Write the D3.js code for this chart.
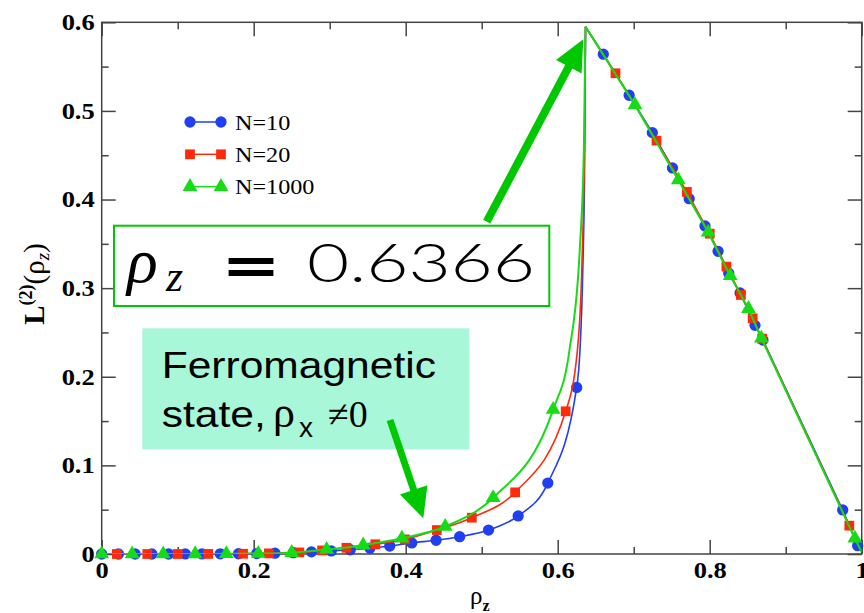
<!DOCTYPE html>
<html>
<head>
<meta charset="utf-8">
<script src="https://cdn.jsdelivr.net/npm/d3@7"></script>
<style>
  body { margin: 0; background: #fff; }
  svg { display: block; }
</style>
</head>
<body>
<svg id="chart" width="864" height="613"></svg>
<script>
// ---- data ----
const seriesNames = ["N=10", "N=20", "N=1000"];
const peak = [0.6366, 0.595];

// marker points, left branch (rho_z below the peak)
const n10Left = [[0, 0], [0.022, 0], [0.044, 0], [0.066, 0], [0.088, 0], [0.11, 0.0001], [0.132, 0.0001],
  [0.156, 0.0002], [0.18, 0.0003], [0.204, 0.0005], [0.228, 0.0009], [0.252, 0.0015], [0.276, 0.0024],
  [0.302, 0.0035], [0.327, 0.0048], [0.353, 0.0065], [0.379, 0.009], [0.408, 0.0125], [0.44, 0.0155],
  [0.471, 0.0195], [0.509, 0.027], [0.548, 0.043], [0.587, 0.08], [0.625, 0.188]];
const n20Left = [[0.02, 0], [0.06, 0], [0.10, 0], [0.14, 0.0001], [0.186, 0.0003], [0.22, 0.0007],
  [0.26, 0.0018], [0.29, 0.004], [0.322, 0.007], [0.36, 0.011], [0.399, 0.0165], [0.441, 0.027],
  [0.487, 0.041], [0.544, 0.0696], [0.6105, 0.161]];
const n1000Left = [[0, 0], [0.04, 0], [0.081, 0], [0.123, 0.0001], [0.164, 0.0002], [0.206, 0.0005],
  [0.25, 0.0015], [0.296, 0.005], [0.344, 0.01], [0.395, 0.0177], [0.452, 0.031], [0.515, 0.0635],
  [0.594, 0.163]];

// line-only points where the curves shoot up to the peak
const n10Rise = [[0.6293, 0.23], [0.633, 0.32], [0.6355, 0.45]];
const n20Rise = [[0.6258, 0.229], [0.632, 0.33], [0.6352, 0.46]];
const n1000Rise = [[0.6153, 0.229], [0.629, 0.343], [0.6345, 0.46]];

// marker points, right branch
const n10Right = [[0.66, 0.564], [0.694, 0.5177], [0.7245, 0.4755], [0.751, 0.4357], [0.773, 0.401],
  [0.7938, 0.3702], [0.811, 0.3416], [0.825, 0.3168], [0.84, 0.2946], [0.8596, 0.258], [0.87, 0.2415],
  [0.975, 0.0497], [0.9947, 0.0094]];
const n20Right = [[0.676, 0.5425], [0.73, 0.4665], [0.77, 0.4086], [0.8, 0.3615], [0.822, 0.3243],
  [0.841, 0.2923], [0.8565, 0.266], [0.869, 0.243], [0.9837, 0.032]];
const n1000Right = [[0.7017, 0.5068], [0.7587, 0.422], [0.798, 0.363], [0.827, 0.314], [0.851, 0.2769],
  [0.868, 0.2435], [0.991, 0.0177]];
const n1000Tail = [[1.0, 0.002]];

const xMajor = [0, 0.2, 0.4, 0.6, 0.8, 1];
const xLabels = ["0", "0.2", "0.4", "0.6", "0.8", "1"];
const xMinor = [0.1, 0.3, 0.5, 0.7, 0.9];
const yMajor = [0, 0.1, 0.2, 0.3, 0.4, 0.5, 0.6];
const yLabels = ["0", "0.1", "0.2", "0.3", "0.4", "0.5", "0.6"];
const yMinor = [0.05, 0.15, 0.25, 0.35, 0.45, 0.55];

// ---- setup ----
const svg = d3.select("#chart");
const x = d3.scaleLinear().domain([0, 1]).range([101.7, 861.7]);
const y = d3.scaleLinear().domain([0, 0.6]).range([554, 22.3]);
const colors = ["#1f3ff0", "#ff2a0a", "#16dc16"];
const green = "#00c800";

// the picture is a bit wider than tall, so text is stretched sideways
function stretch(sel, k) {
  sel.each(function () {
    const w = this.getComputedTextLength();
    d3.select(this).attr("textLength", w * k).attr("lengthAdjust", "spacingAndGlyphs");
  });
}

svg.append("rect").attr("width", 864).attr("height", 613).attr("fill", "#fff");

svg.append("clipPath").attr("id", "plot")
  .append("rect")
  .attr("x", x(0)).attr("y", y(0.6))
  .attr("width", x(1) - x(0)).attr("height", y(0) - y(0.6));

// ---- axes ----
function addAxis(axis, tr, vals, size, labels) {
  const g = svg.append("g").attr("transform", tr)
    .call(axis.tickValues(vals).tickSize(size).tickSizeOuter(0)
      .tickFormat(labels ? (d, i) => labels[i] : ""));
  g.select(".domain").remove();
  g.selectAll("line").attr("stroke", "#444").attr("stroke-width", 1.5);
  return g;
}
const bx = addAxis(d3.axisBottom(x).tickPadding(8), `translate(0,${y(0)})`, xMajor, -14, xLabels);
addAxis(d3.axisBottom(x), `translate(0,${y(0)})`, xMinor, -7);
addAxis(d3.axisTop(x), `translate(0,${y(0.6)})`, xMajor, -14);
addAxis(d3.axisTop(x), `translate(0,${y(0.6)})`, xMinor, -7);
const ly = addAxis(d3.axisLeft(y).tickPadding(7), `translate(${x(0)},0)`, yMajor, -14, yLabels);
addAxis(d3.axisLeft(y), `translate(${x(0)},0)`, yMinor, -7);
addAxis(d3.axisRight(y), `translate(${x(1)},0)`, yMajor, -14);
addAxis(d3.axisRight(y), `translate(${x(1)},0)`, yMinor, -7);

[bx, ly].forEach(g => {
  g.selectAll("text")
    .attr("font-family", "Liberation Serif, Times New Roman, serif")
    .attr("font-weight", "bold").attr("font-size", 23).attr("fill", "#000");
  stretch(g.selectAll("text"), 1.15);
});

svg.append("rect")
  .attr("x", x(0)).attr("y", y(0.6))
  .attr("width", x(1) - x(0)).attr("height", y(0) - y(0.6))
  .attr("fill", "none").attr("stroke", "#444").attr("stroke-width", 1.5);

// ---- series ----
const leftLine = d3.line().x(d => x(d[0])).y(d => y(d[1])).curve(d3.curveMonotoneX);
const rightLine = d3.line().x(d => x(d[0])).y(d => y(d[1]));
const shapes = [d3.symbolCircle, d3.symbolSquare, d3.symbolTriangle];
const sizes = [100, 95, 95];

const series = [
  { left: n10Left, rise: n10Rise, right: n10Right, tail: [] },
  { left: n20Left, rise: n20Rise, right: n20Right, tail: [] },
  { left: n1000Left, rise: n1000Rise, right: n1000Right, tail: n1000Tail }
];

series.forEach((s, i) => {
  const g = svg.append("g");
  const lines = g.append("g").attr("clip-path", "url(#plot)")
    .attr("fill", "none").attr("stroke", colors[i]).attr("stroke-width", i === 2 ? 2 : 1.6);
  lines.append("path").attr("d", leftLine(s.left.concat(s.rise, [peak])));
  lines.append("path").attr("d", rightLine([peak].concat(s.right, s.tail)));
  g.selectAll("path.mark").data(s.left.concat(s.right)).join("path")
    .attr("class", "mark")
    .attr("transform", d => `translate(${x(d[0])},${y(d[1])})`)
    .attr("d", d3.symbol().type(shapes[i]).size(sizes[i]))
    .attr("fill", colors[i]);
});

// ---- legend ----
const legend = svg.append("g");
seriesNames.forEach((name, i) => {
  const ry = 122 + i * 32.3;
  legend.append("line").attr("x1", 190).attr("x2", 221).attr("y1", ry).attr("y2", ry)
    .attr("stroke", colors[i]).attr("stroke-width", 1.5);
  [190, 221].forEach(px => legend.append("path")
    .attr("transform", `translate(${px},${ry})`)
    .attr("d", d3.symbol().type(shapes[i]).size(sizes[i]))
    .attr("fill", colors[i]));
  legend.append("text").attr("x", 235).attr("y", ry + 7.5)
    .attr("font-family", "Liberation Serif, Times New Roman, serif")
    .attr("font-size", 21).text(name);
});
stretch(legend.selectAll("text"), 1.15);

// ---- axis titles ----
const yt = svg.append("text")
  .attr("transform", "translate(44,284) rotate(-90)")
  .attr("text-anchor", "middle")
  .attr("font-family", "Liberation Serif, Times New Roman, serif");
yt.append("tspan").attr("font-size", 29).attr("font-weight", "bold").text("L");
yt.append("tspan").attr("font-size", 18).attr("font-weight", "bold").attr("dy", -12).text("(2)");
yt.append("tspan").attr("font-size", 29).attr("dy", 12).text("(ρ");
yt.append("tspan").attr("font-size", 19).attr("dy", 5).attr("font-style", "italic").text("z");
yt.append("tspan").attr("font-size", 29).attr("dy", -5).text(")");

const xt = svg.append("text").attr("x", 470).attr("y", 604)
  .attr("font-family", "Liberation Serif, Times New Roman, serif");
xt.append("tspan").attr("font-size", 25).text("ρ");
xt.append("tspan").attr("font-size", 16).attr("font-weight", "bold").attr("dy", 7).text("z");

// ---- annotations ----
function arrow(x0, y0, x1, y1, w, hl, hw) {
  const dx = x1 - x0, dy = y1 - y0, L = Math.hypot(dx, dy);
  const ux = dx / L, uy = dy / L, nx = -uy, ny = ux;
  const bx = x1 - ux * hl, by = y1 - uy * hl;
  const pts = [
    [x0 + nx * w / 2, y0 + ny * w / 2], [bx + nx * w / 2, by + ny * w / 2],
    [bx + nx * hw / 2, by + ny * hw / 2], [x1, y1],
    [bx - nx * hw / 2, by - ny * hw / 2], [bx - nx * w / 2, by - ny * w / 2],
    [x0 - nx * w / 2, y0 - ny * w / 2]];
  svg.append("path").attr("d", "M" + pts.map(p => p.join(",")).join("L") + "Z").attr("fill", green);
}

// critical point box
svg.append("rect").attr("x", 114).attr("y", 225.7).attr("width", 435.3).attr("height", 80.3)
  .attr("fill", "#fff").attr("stroke", green).attr("stroke-width", 2);
arrow(486.7, 221.7, 583.3, 39.3, 8, 31, 29);
svg.append("text").attr("x", 127).attr("y", 282)
  .attr("font-family", "Liberation Serif, serif").attr("font-style", "italic")
  .attr("font-size", 64).text("ρ");
svg.append("text").attr("x", 166).attr("y", 291)
  .attr("font-family", "Liberation Serif, serif").attr("font-style", "italic")
  .attr("font-size", 44).text("z");
const eq = svg.append("text").attr("x", 221).attr("y", 283)
  .attr("font-family", "DejaVu Sans, sans-serif").attr("font-weight", "bold")
  .attr("font-size", 52).text("=");
const num = svg.append("text").attr("x", 307).attr("y", 282)
  .attr("font-family", "Lato, DejaVu Sans, sans-serif").attr("font-weight", 300)
  .attr("font-size", 53).text("0.6366");
eq.attr("textLength", 60).attr("lengthAdjust", "spacingAndGlyphs");
num.attr("textLength", 228).attr("lengthAdjust", "spacingAndGlyphs");

// ferromagnetic box
svg.append("rect").attr("x", 142.3).attr("y", 328.3).attr("width", 327).attr("height", 121)
  .attr("fill", "#a8f7d8");
const f1 = svg.append("text").attr("x", 161.7).attr("y", 378.3)
  .attr("font-family", "Liberation Sans, Arial, sans-serif").attr("font-size", 37).text("Ferromagnetic");
stretch(f1, 1.15);
const f2 = svg.append("text").attr("x", 161.7).attr("y", 426.7)
  .attr("font-family", "Liberation Sans, Arial, sans-serif").attr("font-size", 37).text("state,");
stretch(f2, 1.15);
svg.append("text").attr("x", 273).attr("y", 427)
  .attr("font-family", "Liberation Serif, serif").attr("font-size", 44).text("ρ");
svg.append("text").attr("x", 299).attr("y", 437)
  .attr("font-family", "Liberation Sans, Arial, sans-serif").attr("font-size", 28).text("x");
svg.append("text").attr("x", 328).attr("y", 426.7)
  .attr("font-family", "Liberation Serif, serif").attr("font-size", 38).text("≠0");
arrow(390, 420, 423.3, 518.3, 7, 30, 29);
</script>
</body>
</html>
